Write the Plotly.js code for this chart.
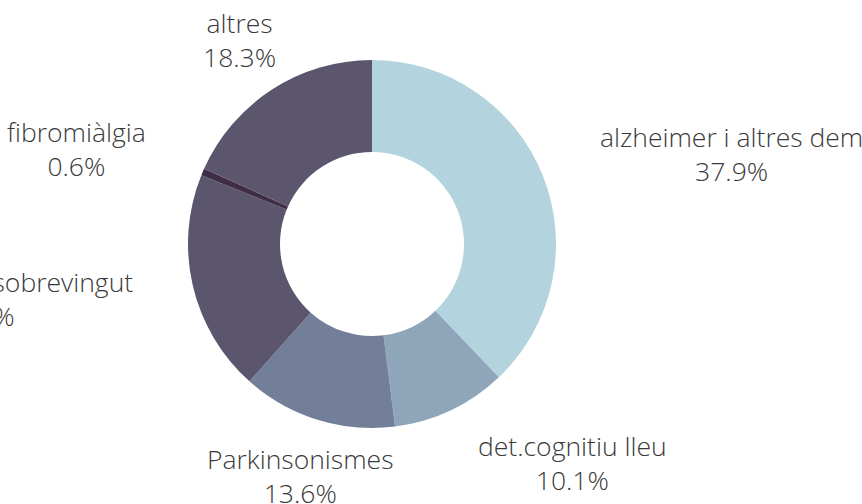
<!DOCTYPE html>
<html>
<head>
<meta charset="utf-8">
<script src="https://cdn.plot.ly/plotly-3.0.1.min.js"></script>
<style>html,body{margin:0;padding:0;background:#fff;}#chart{width:862px;height:504px;}</style>
</head>
<body>
<div id="chart"></div>
<script>
var categories = ["alzheimer i altres dem", "det.cognitiu lleu", "Parkinsonismes", "dany cerebral sobrevingut", "fibromiàlgia", "altres"];
var values = [37.9, 10.1, 13.6, 19.5, 0.6, 18.3];
var colors = ["#b3d4df", "#8fa5ba", "#737f98", "#5b566e", "#3f2d45", "#5b566e"];

var W = 862, H = 504;
var M = {l: 20, r: 138, t: 60, b: 76};
var plotW = W - M.l - M.r, plotH = H - M.t - M.b;
var pieR = Math.min(plotW, plotH) / 2;
var labelR = pieR * 1.32;

var trace = {
  type: "pie",
  labels: categories,
  values: values,
  hole: 0.5,
  sort: false,
  direction: "clockwise",
  rotation: 0,
  marker: {colors: colors, line: {width: 0}},
  textinfo: "none",
  hoverinfo: "label+percent",
  showlegend: false
};

// labels placed outside the ring at each slice's mid-angle (derived from the values)
var total = values.reduce(function (a, b) { return a + b; }, 0);
var annotations = [];
var cum = 0;
for (var i = 0; i < values.length; i++) {
  var frac = values[i] / total;
  var mid = (cum + frac / 2) * 2 * Math.PI;
  cum += frac;
  var s = Math.sin(mid), c = Math.cos(mid);
  var xa = s > 0.3 ? "left" : (s < -0.7 ? "right" : "center");
  annotations.push({
    xref: "paper", yref: "paper",
    x: 0.5 + labelR * s / plotW,
    y: 0.5 + labelR * c / plotH,
    xanchor: xa, yanchor: "middle", align: "center",
    showarrow: false,
    text: categories[i] + "<br>" + (frac * 100).toFixed(1) + "%",
    font: {family: "Open Sans", weight: 300, size: 26.5, color: "#3a3a3a"}
  });
}

var layout = {
  width: W,
  height: H,
  margin: M,
  paper_bgcolor: "#fff",
  plot_bgcolor: "#fff",
  font: {family: "Open Sans", weight: 300, color: "#3a3a3a"},
  showlegend: false,
  annotations: annotations
};

Plotly.newPlot("chart", [trace], layout, {displayModeBar: false, staticPlot: true});
</script>
</body>
</html>
